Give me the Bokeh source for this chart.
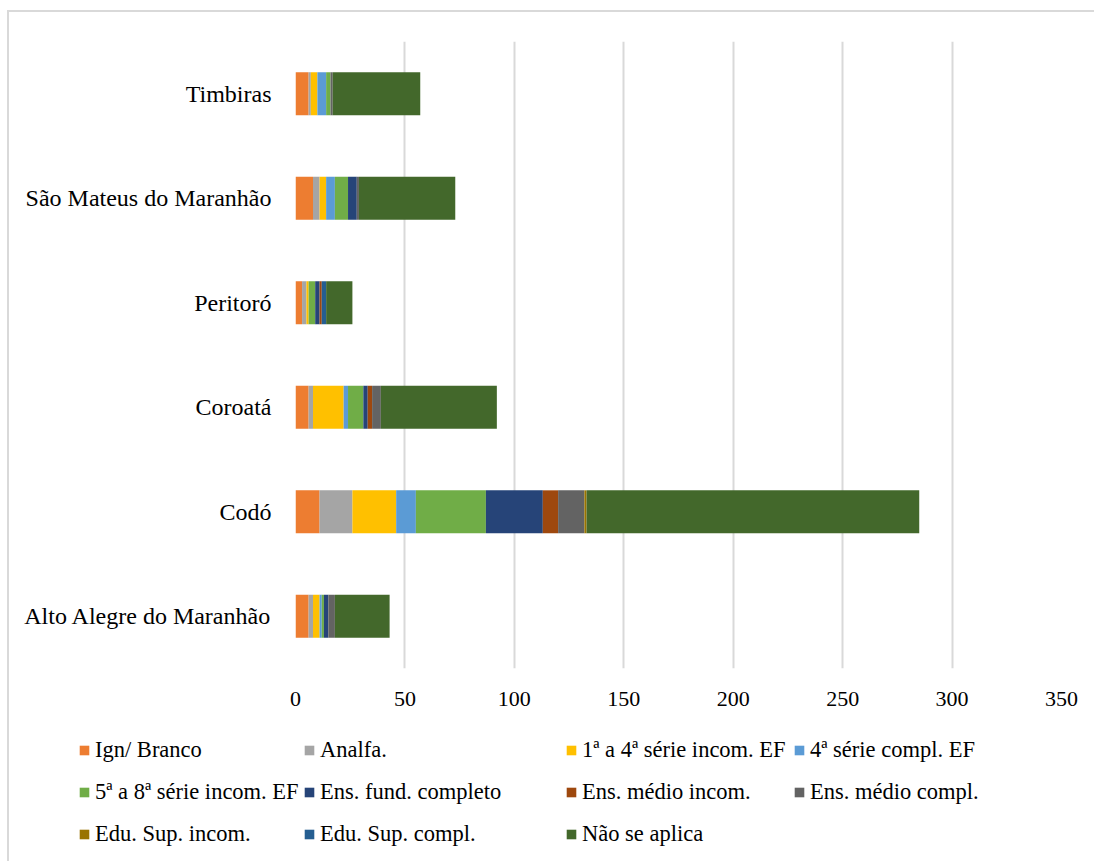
from bokeh.plotting import figure
from bokeh.layouts import column, row
from bokeh.models import (Range1d, FactorRange, FixedTicker, Legend, LegendItem,
                          ColumnDataSource)
from bokeh.embed import file_html
from bokeh.resources import INLINE

# ---- data (categories listed bottom to top) ----
categories = ["Alto Alegre do Maranhão", "Codó", "Coroatá", "Peritoró",
              "São Mateus do Maranhão", "Timbiras"]
ign_branco = [6, 11, 6, 3, 8, 6]
analfa = [2, 15, 2, 2, 3, 1]
serie_1a4_incom = [3, 20, 14, 1, 3, 3]
serie_4_compl = [1, 9, 2, 0, 4, 4]
serie_5a8_incom = [1, 32, 7, 3, 6, 2]
fund_completo = [2, 26, 2, 2, 4, 0]
medio_incom = [0, 7, 2, 1, 0, 0]
medio_compl = [3, 12, 4, 0, 1, 1]
sup_incom = [0, 1, 0, 0, 0, 0]
sup_compl = [0, 0, 0, 2, 0, 0]
nao_se_aplica = [25, 152, 53, 12, 44, 40]

series_names = ["Ign/ Branco", "Analfa.", "1ª a 4ª série incom. EF", "4ª série compl. EF",
                "5ª a 8ª série incom. EF", "Ens. fund. completo", "Ens. médio incom.",
                "Ens. médio compl.", "Edu. Sup. incom.", "Edu. Sup. compl.", "Não se aplica"]
series_values = [ign_branco, analfa, serie_1a4_incom, serie_4_compl, serie_5a8_incom,
                 fund_completo, medio_incom, medio_compl, sup_incom, sup_compl, nao_se_aplica]
colors = ["#ED7D31", "#A5A5A5", "#FFC000", "#5B9BD5", "#70AD47", "#264478",
          "#9E480E", "#636363", "#997300", "#255E91", "#43682B"]
x_ticks = [0, 50, 100, 150, 200, 250, 300, 350]

keys = ["s%d" % i for i in range(len(series_names))]
data = {"cat": categories}
for k, v in zip(keys, series_values):
    data[k] = v
source = ColumnDataSource(data)

FONT = "Liberation Serif"
W = 1085

# ---- main chart ----
p = figure(width=W, height=708, output_backend="svg", toolbar_location=None,
           y_range=FactorRange(factors=categories, range_padding=0),
           x_range=Range1d(0, 350),
           min_border_left=286, min_border_right=33, min_border_top=29, min_border_bottom=52)

renderers = p.hbar_stack(keys, y="cat", height=0.41, color=colors, source=source,
                         line_color=None)

p.outline_line_color = None
p.ygrid.grid_line_color = None
p.xgrid.grid_line_color = "#D9D9D9"
p.xgrid.grid_line_width = 2
p.xaxis.ticker = FixedTicker(ticks=x_ticks)

for ax in (p.xaxis, p.yaxis):
    ax.axis_line_color = None
    ax.major_tick_line_color = None
    ax.minor_tick_line_color = None
    ax.major_label_text_font = FONT
    ax.major_label_text_color = "#000000"
p.yaxis.major_label_text_font_size = "24px"
p.xaxis.major_label_text_font_size = "22px"
p.yaxis.major_label_standoff = 18
p.xaxis.major_label_standoff = 17

# ---- legend panel (same stacked series, drawn outside its visible x range) ----
q = figure(width=W, height=141, output_backend="svg", toolbar_location=None,
           x_range=Range1d(-2, -1), y_range=FactorRange(factors=categories),
           min_border_left=0, min_border_right=0, min_border_top=0, min_border_bottom=0)
q.axis.visible = False
q.grid.visible = False
q.outline_line_color = None

swatches = q.hbar_stack(keys, y="cat", height=0.41, color=colors, source=source,
                        line_color=None)

columns_idx = [[0, 4, 8], [1, 5, 9], [2, 6, 10], [3, 7]]
col_x = [69, 294, 556, 784]
for idx, cx in zip(columns_idx, col_x):
    items = [LegendItem(label=series_names[i], renderers=[swatches[i]]) for i in idx]
    top_offset = 6 + 42 * (3 - len(idx))
    lg = Legend(items=items, location=(cx, top_offset), orientation="vertical",
                label_text_font=FONT, label_text_font_size="22.5px",
                label_text_color="#000000", glyph_width=12, glyph_height=12,
                label_height=42, label_standoff=5, spacing=0, padding=0, margin=0,
                background_fill_alpha=0, border_line_color=None)
    q.add_layout(lg)

layout = column(p, row(q), spacing=0)
layout.margin = (10, 0, 0, 7)
layout.styles = {"border-left": "2px solid #D9D9D9", "border-top": "2px solid #D9D9D9"}

open("out.html", "w").write(file_html(layout, INLINE))
